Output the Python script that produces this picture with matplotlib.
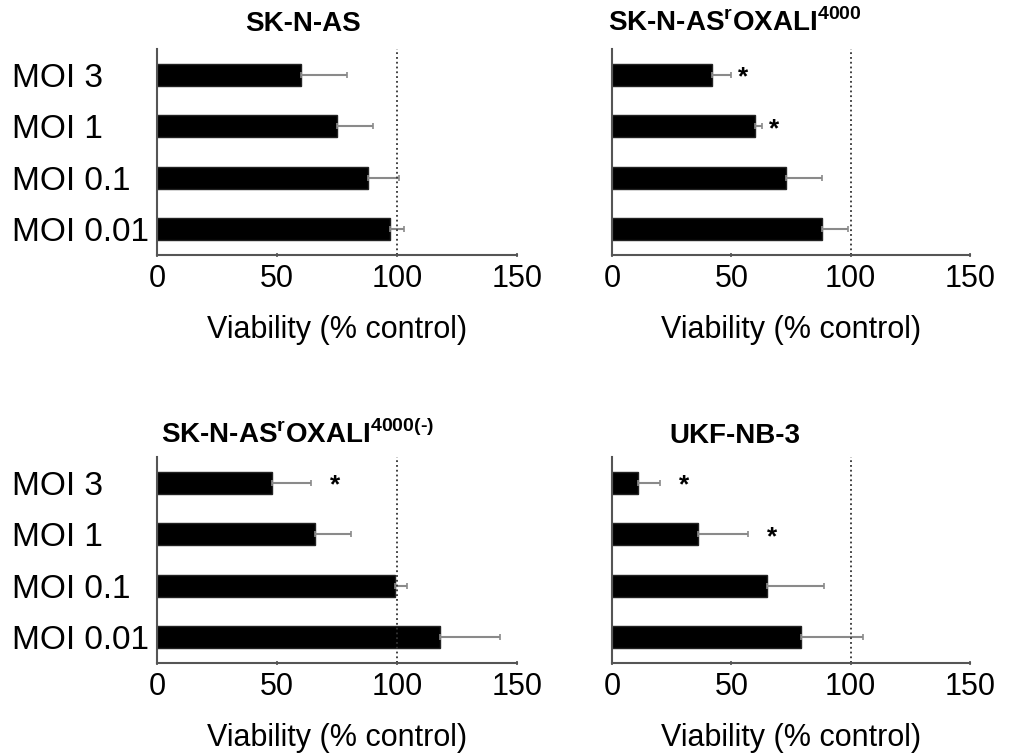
import numpy as np
import matplotlib
matplotlib.use('Agg')
import matplotlib.pyplot as plt

plt.rcParams['font.family'] = ['Liberation Sans', 'DejaVu Sans']
plt.rcParams['mathtext.fontset'] = 'custom'
plt.rcParams['mathtext.rm'] = 'Liberation Sans:bold'
plt.rcParams['mathtext.bf'] = 'Liberation Sans:bold'

categories = ['MOI 3', 'MOI 1', 'MOI 0.1', 'MOI 0.01']
titles = ['SK-N-AS',
          r'SK-N-AS$^{\mathbf{r}}$OXALI$^{\mathbf{4000}}$',
          r'SK-N-AS$^{\mathbf{r}}$OXALI$^{\mathbf{4000(}\text{-}\mathbf{)}}$',
          'UKF-NB-3']

vals_sknas = [60, 75, 88, 97]
err_sknas = [19, 15, 13, 6]
vals_oxali = [42, 60, 73, 88]
err_oxali = [8, 3, 15, 11]
vals_oxali_minus = [48, 66, 99, 118]
err_oxali_minus = [16, 15, 5, 25]
vals_ukf = [11, 36, 65, 79]
err_ukf = [9, 21, 24, 26]

# significance stars: (bar index, x position)
stars_sknas = []
stars_oxali = [(0, 55), (1, 68)]
stars_oxali_minus = [(0, 74)]
stars_ukf = [(0, 30), (1, 67)]

panels = [(vals_sknas, err_sknas, stars_sknas),
          (vals_oxali, err_oxali, stars_oxali),
          (vals_oxali_minus, err_oxali_minus, stars_oxali_minus),
          (vals_ukf, err_ukf, stars_ukf)]

fig = plt.figure(figsize=(10.11, 7.53), dpi=100)
W, H = 1011, 753
lefts = [157, 612]
widths = [360, 358]
tops = [49, 457]
ax_h = 206
title_x = [303, 735, 297, 735]
title_base = [31, 443]

y = np.arange(len(categories))
for i, (vals, errs, stars) in enumerate(panels):
    r, c = divmod(i, 2)
    ax = fig.add_axes([lefts[c] / W, 1 - (tops[r] + ax_h) / H, widths[c] / W, ax_h / H])
    ax.barh(y, vals, height=0.42, color='black', edgecolor='#222222',
            xerr=[np.zeros(len(errs)), errs],
            error_kw=dict(ecolor='#8a8a8a', elinewidth=1.5, capsize=2.5, capthick=1.2))
    ax.axvline(100, color='#333333', linestyle=':', linewidth=1.3)
    for idx, sx in stars:
        ax.text(sx, idx + 0.05, '*', ha='center', va='center', fontsize=19, fontweight='bold')
    ax.set_xlim(0, 150)
    ax.set_ylim(3.5, -0.5)
    ax.set_xticks([0, 50, 100, 150])
    ax.set_yticks(y)
    if c == 0:
        ax.set_yticklabels(categories, fontsize=24)
        for lab in ax.get_yticklabels():
            lab.set_horizontalalignment('left')
        ax.tick_params(axis='y', length=0, pad=(lefts[0] - 12) * 0.72)
    else:
        ax.set_yticklabels([])
        ax.tick_params(axis='y', length=0)
    ax.tick_params(axis='x', labelsize=22, length=3, width=1.2, direction='inout',
                   color='#555555', pad=5)
    for s in ['top', 'right']:
        ax.spines[s].set_visible(False)
    for s in ['left', 'bottom']:
        ax.spines[s].set_color('#555555')
        ax.spines[s].set_linewidth(1.5)
    ax.set_xlabel('Viability (% control)', fontsize=22, labelpad=15)
    fig.text(title_x[i] / W, 1 - title_base[r] / H, titles[i], ha='center', va='baseline',
             fontsize=20, fontweight='bold')

plt.savefig('out.png', dpi=100)
